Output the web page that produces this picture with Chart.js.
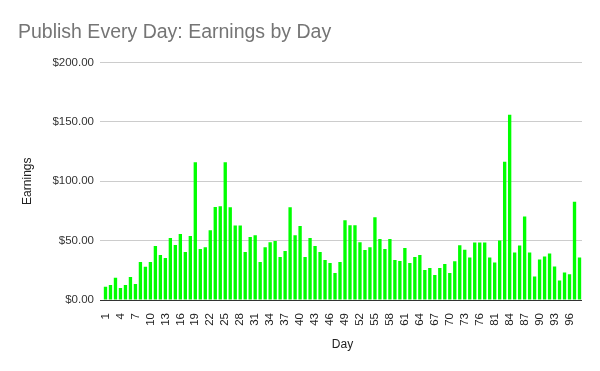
<!DOCTYPE html>
<html>
<head>
<meta charset="utf-8">
<title>Publish Every Day: Earnings by Day</title>
<script src="https://cdn.jsdelivr.net/npm/chart.js@4.4.1/dist/chart.umd.min.js"></script>
<style>
  html, body { margin: 0; padding: 0; background: #fff; }
  #wrap { width: 600px; height: 371px; }
</style>
</head>
<body>
<div id="wrap"><canvas id="earningsChart" width="600" height="371"></canvas></div>
<script>
// days with a recorded value (two of 77-80 are in the sheet)
const days = [
  1, 2, 3, 4, 5, 6, 7, 8, 9, 10, 11, 12, 13, 14, 15, 16, 17, 18, 19, 20,
  21, 22, 23, 24, 25, 26, 27, 28, 29, 30, 31, 32, 33, 34, 35, 36, 37, 38, 39, 40,
  41, 42, 43, 44, 45, 46, 47, 48, 49, 50, 51, 52, 53, 54, 55, 56, 57, 58, 59, 60,
  61, 62, 63, 64, 65, 66, 67, 68, 69, 70, 71, 72, 73, 74, 75, 76, 77, 78,
  81, 82, 83, 84, 85, 86, 87, 88, 89, 90, 91, 92, 93, 94, 95, 96, 97, 98
];

const earnings = [
  11.2, 12.6, 18.8, 10.0, 12.6, 19.3, 13.4, 32.0, 28.0, 32.0,
  45.4, 37.8, 35.3, 52.1, 46.2, 55.5, 40.3, 53.8, 116.0, 42.9,
  44.5, 58.8, 78.2, 79.0, 116.0, 78.0, 62.7, 62.7, 40.3, 53.0,
  54.6, 32.0, 44.5, 48.7, 49.6, 36.1, 41.2, 78.0, 54.6, 62.2,
  36.1, 52.1, 45.4, 40.3, 33.6, 31.1, 22.7, 32.0, 67.2, 63.0,
  63.0, 48.7, 42.0, 44.5, 69.7, 51.3, 42.9, 51.3, 33.6, 32.8,
  43.7, 31.1, 36.1, 37.8, 25.2, 26.9, 21.0, 26.9, 30.3, 22.7,
  32.6, 46.0, 42.4, 35.7, 48.3, 48.3, 48.3, 35.7, 31.5, 50.0,
  116.4, 155.9, 39.9, 45.8, 70.2, 39.9, 19.7, 34.0, 36.6, 39.1,
  28.3, 16.5, 23.2, 21.6, 82.8, 35.7
];

const yTicks = [0, 50, 100, 150, 200];

const FONT = "'Liberation Sans', Arial, sans-serif";

const ctx = document.getElementById('earningsChart').getContext('2d');

new Chart(ctx, {
  type: 'bar',
  data: {
    labels: days,
    datasets: [{
      label: 'Earnings',
      data: earnings,
      backgroundColor: '#00ff00',
      borderWidth: 0,
      barPercentage: 0.67,
      categoryPercentage: 1.0
    }]
  },
  options: {
    responsive: false,
    animation: false,
    layout: { padding: { left: 18, right: 18, top: 0, bottom: 0 } },
    plugins: {
      legend: { display: false },
      tooltip: { enabled: false },
      title: {
        display: true,
        text: 'Publish Every Day: Earnings by Day',
        align: 'start',
        color: '#757575',
        font: { family: FONT, size: 19.5, weight: 'normal' },
        padding: { top: 21, bottom: 18 }
      }
    },
    scales: {
      x: {
        grid: { display: false },
        border: { display: false },
        ticks: {
          autoSkip: false,
          minRotation: 90,
          maxRotation: 90,
          padding: 5,
          color: '#222',
          font: { family: FONT, size: 11.5 },
          callback: (v, i) => (i % 3 === 0 ? String(days[i]) : '')
        },
        title: {
          display: true,
          text: 'Day',
          color: '#222',
          font: { family: FONT, size: 12 },
          padding: { top: 4, bottom: 19 }
        },
        afterFit: s => { s.height = 71; }
      },
      y: {
        min: yTicks[0],
        max: yTicks[yTicks.length - 1],
        border: { display: false },
        grid: {
          drawTicks: true,
          tickLength: 3,
          color: c => (c.tick && c.tick.value === 0 ? '#333' : '#cccccc'),
          lineWidth: 1
        },
        ticks: {
          stepSize: 50,
          padding: 6,
          color: '#333',
          font: { family: FONT, size: 11.5 },
          callback: v => '$' + Number(v).toFixed(2)
        },
        afterBuildTicks: s => { s.ticks = yTicks.map(v => ({ value: v })); },
        title: {
          display: true,
          text: 'Earnings',
          color: '#222',
          font: { family: FONT, size: 12 },
          padding: { top: 2, bottom: 4 }
        },
        afterFit: s => { s.width = 85; }
      }
    }
  }
});
</script>
</body>
</html>
